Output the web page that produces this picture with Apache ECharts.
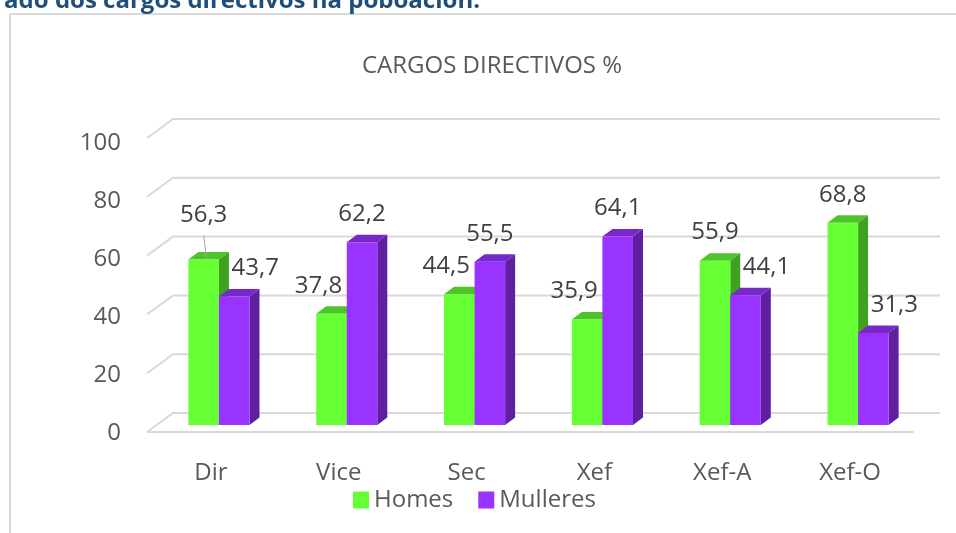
<!DOCTYPE html>
<html>
<head>
<meta charset="utf-8">
<style>
  html, body { margin: 0; padding: 0; background: #ffffff; }
  #chart { width: 956px; height: 533px; }
</style>
<script src="https://cdn.jsdelivr.net/npm/echarts@6/dist/echarts.min.js"></script>
</head>
<body>
<div id="chart"></div>
<script>
// ---- data ----
const categories = ['Dir', 'Vice', 'Sec', 'Xef', 'Xef-A', 'Xef-O'];
const homes = [56.3, 37.8, 44.5, 35.9, 55.9, 68.8];
const mulleres = [43.7, 62.2, 55.5, 64.1, 44.1, 31.3];
const yTicks = [0, 20, 40, 60, 80, 100];
const seriesNames = ['Homes', 'Mulleres'];
const chartTitle = 'CARGOS DIRECTIVOS %';
const headerText = 'ado dos cargos directivos na poboación.';

// ---- style constants ----
const FONT = '"Open Sans", "Noto Sans", sans-serif';
const WALL_DX = 26, WALL_DY = -19;      // depth of the 3D box
const BAR_DX = 8, BAR_DY = -7;          // bar front plane offset
const SIDE_DX = 10, SIDE_DY = -7.5;     // bar depth
const BAR_FRAC = 0.239;                 // bar width / category band
const faces = [
  { front: '#66FF33', side: '#40A020', top: '#4EC42A' },
  { front: '#9933FF', side: '#601EA0', top: '#7628C8' }
];
const labelLift = { 0: { 0: 16 } };     // manually lifted label (series 0, Dir)

const fmt = v => v.toFixed(1).replace('.', ',');

const chart = echarts.init(document.getElementById('chart'), null, { renderer: 'canvas' });

function gridRender(params, api) {
  const cs = params.coordSys;
  const v = api.value(1);
  const y = api.coord([0, v])[1];
  const x0 = cs.x, x1 = cs.x + cs.width;
  const style = { stroke: '#D9D9D9', lineWidth: 2, fill: null };
  const children = [{
    type: 'polyline',
    shape: { points: [[x0, y], [x0 + WALL_DX, y + WALL_DY], [x1 + WALL_DX, y + WALL_DY]] },
    style: style
  }];
  if (v === 0) {
    children.push({ type: 'line', shape: { x1: x0, y1: y, x2: x1, y2: y }, style: style });
  }
  // tick label on the front edge
  children.push({
    type: 'text',
    style: { text: String(v), x: x0 - 26, y: y + 1 + v * 0.04, align: 'right', verticalAlign: 'middle',
      fontSize: 24, fontFamily: FONT, fill: '#595959' }
  });
  return { type: 'group', children: children };
}

function makeBarRender(si) {
  return function (params, api) {
    const i = params.dataIndex;
    const val = api.value(1);
    const base = api.coord([i, 0]);
    const topP = api.coord([i, val]);
    const band = api.size([1, 0])[0];
    const w = band * BAR_FRAC;
    const cx = base[0] + BAR_DX;
    const xl = si === 0 ? cx - w : cx;
    const xr = xl + w;
    const yb = base[1] + BAR_DY;
    const yt = topP[1] + BAR_DY;
    const f = faces[si];
    const other = si === 0 ? mulleres[i] : homes[i];
    let shift = 0;
    if (other > val) shift = si === 0 ? -13 : 21;
    const lift = (labelLift[si] && labelLift[si][i]) || 0;
    const lx = (xl + xr) / 2 + shift;
    const ly = yt - 28 - lift;
    const children = [
      { type: 'polygon', shape: { points: [[xr, yt], [xr + SIDE_DX, yt + SIDE_DY], [xr + SIDE_DX, yb + SIDE_DY], [xr, yb]] },
        style: { fill: f.side } },
      { type: 'polygon', shape: { points: [[xl, yt], [xl + SIDE_DX, yt + SIDE_DY], [xr + SIDE_DX, yt + SIDE_DY], [xr, yt]] },
        style: { fill: f.top } },
      { type: 'rect', shape: { x: xl, y: yt, width: w, height: yb - yt },
        style: { fill: f.front } }
    ];
    if (lift) {
      children.push({ type: 'line', shape: { x1: lx, y1: ly + 20, x2: lx + 3, y2: yt },
        style: { stroke: '#A6A6A6', lineWidth: 1 } });
    }
    children.push({
      type: 'text', z2: 10,
      style: { text: fmt(val), x: lx, y: ly, align: 'center', verticalAlign: 'middle',
        fontSize: 24, fontFamily: FONT, fill: '#404040' }
    });
    return { type: 'group', children: children };
  };
}

const option = {
  backgroundColor: '#ffffff',
  animation: false,
  grid: { left: 147, right: 42, top: 138, bottom: 101, containLabel: false },
  xAxis: {
    type: 'category',
    data: categories,
    axisLine: { show: false },
    axisTick: { show: false },
    axisLabel: { fontSize: 24, fontFamily: FONT, color: '#595959', margin: 29 }
  },
  yAxis: {
    type: 'value', min: 0, max: 100, interval: 20,
    axisLine: { show: false }, axisTick: { show: false },
    splitLine: { show: false },
    axisLabel: { show: false }
  },
  legend: {
    data: seriesNames,
    left: 353, top: 488, padding: 0,
    icon: 'rect', itemWidth: 16, itemHeight: 17, itemGap: 25,
    textStyle: { fontSize: 24, fontFamily: FONT, color: '#595959' }
  },
  graphic: [
    { type: 'line', silent: true, shape: { x1: 10, y1: 14, x2: 960, y2: 14 },
      style: { stroke: '#D9D9D9', lineWidth: 2 } },
    { type: 'line', silent: true, shape: { x1: 10, y1: 14, x2: 10, y2: 540 },
      style: { stroke: '#D9D9D9', lineWidth: 2 } },
    { type: 'text', silent: true, style: { text: headerText, x: 480, y: 13, align: 'right',
        verticalAlign: 'bottom', fontSize: 24, fontWeight: 'bold', fontFamily: FONT, fill: '#1F4E79' } },
    { type: 'text', silent: true, style: { text: chartTitle, x: 492, y: 66, align: 'center',
        verticalAlign: 'middle', fontSize: 24, fontFamily: FONT, fill: '#595959' } }
  ],
  series: [
    {
      type: 'custom', name: 'grid3d', silent: true, z: 1,
      data: yTicks.map(v => [0, v]),
      encode: { x: 0, y: 1 },
      renderItem: gridRender
    },
    {
      type: 'custom', name: seriesNames[0], z: 2,
      itemStyle: { color: faces[0].front },
      data: homes.map((v, i) => [i, v]),
      encode: { x: 0, y: 1 },
      renderItem: makeBarRender(0)
    },
    {
      type: 'custom', name: seriesNames[1], z: 2,
      itemStyle: { color: faces[1].front },
      data: mulleres.map((v, i) => [i, v]),
      encode: { x: 0, y: 1 },
      renderItem: makeBarRender(1)
    }
  ]
};
chart.setOption(option);
</script>
</body>
</html>
